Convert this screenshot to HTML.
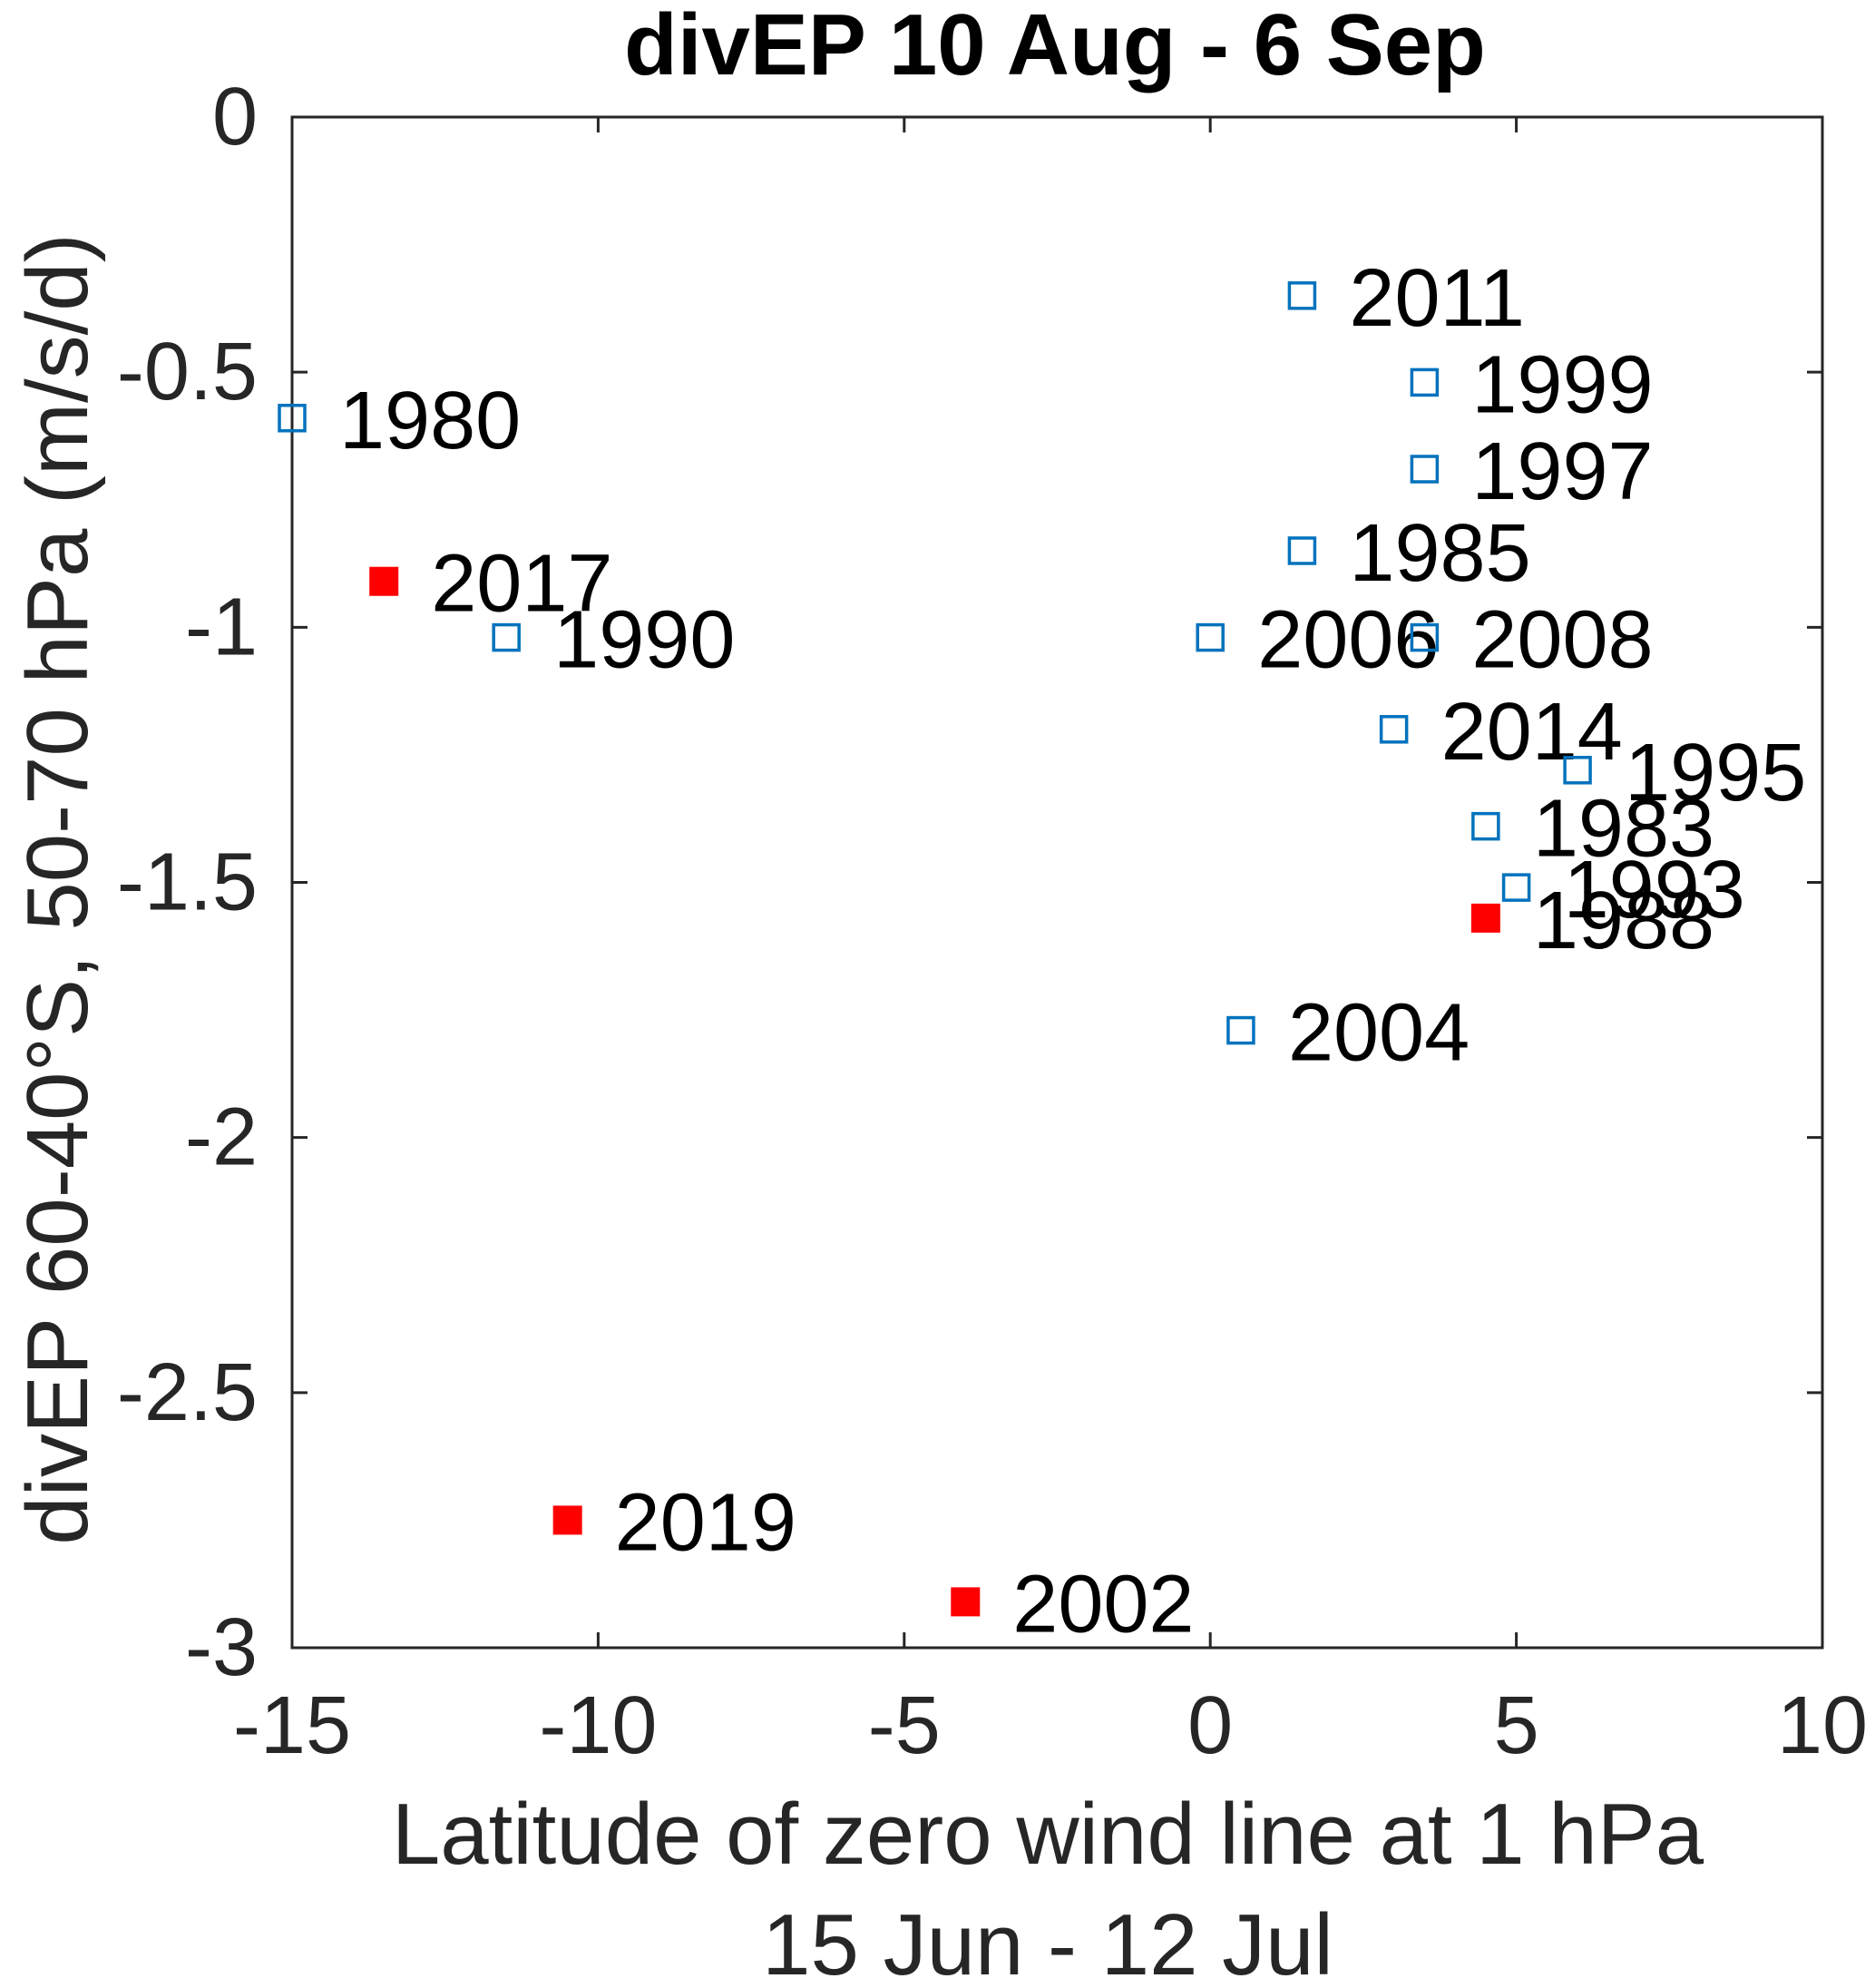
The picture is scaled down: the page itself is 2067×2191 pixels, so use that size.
<!DOCTYPE html>
<html><head><meta charset="utf-8"><style>
html,body{margin:0;padding:0;background:#fff;}
svg{display:block;font-family:"Liberation Sans",Arial,sans-serif;}
</style></head><body>
<svg id="chart" width="2067" height="2191" viewBox="0 0 2067 2191" xmlns="http://www.w3.org/2000/svg">
<text x="1163" y="82" font-size="96" font-weight="bold" text-anchor="middle" fill="#000">divEP 10 Aug - 6 Sep</text>
<g id="axes"></g>
<g id="points"></g>
<text x="1155" y="2054" font-size="96" text-anchor="middle" fill="#262626">Latitude of zero wind line at 1 hPa</text>
<text x="1155" y="2176" font-size="96" text-anchor="middle" fill="#262626">15 Jun - 12 Jul</text>
<text transform="translate(96,980) rotate(-90)" font-size="96" text-anchor="middle" fill="#262626">divEP 60-40°S, 50-70 hPa (m/s/d)</text>
</svg>
<script>
const years = ["1980","2017","1990","2019","2002","2011","1999","1997","1985","2006","2008","2014","1995","1983","1993","1988","2004"];
const xValues = [-15,-13.5,-11.5,-10.5,-4,1.5,3.5,3.5,1.5,0,3.5,3,6,4.5,5,4.5,0.5];
const yValues = [-0.59,-0.91,-1.02,-2.75,-2.91,-0.35,-0.52,-0.69,-0.85,-1.02,-1.02,-1.2,-1.28,-1.39,-1.51,-1.57,-1.79];
const highlighted = [false,true,false,true,true,false,false,false,false,false,false,false,false,false,false,true,false];
const xTicks = [-15,-10,-5,0,5,10];
const yTicks = [0,-0.5,-1,-1.5,-2,-2.5,-3];
const yTickLabels = ["0","-0.5","-1","-1.5","-2","-2.5","-3"];

const L=322,R=2009,T=129,B=1816;
const xMin=-15,xMax=10,yMin=-3,yMax=0;
const sx=v=>L+(v-xMin)/(xMax-xMin)*(R-L);
const sy=v=>T+(yMax-v)/(yMax-yMin)*(B-T);
const NS="http://www.w3.org/2000/svg";
function mk(tag,attrs,parent){const e=document.createElementNS(NS,tag);for(const k in attrs)e.setAttribute(k,attrs[k]);parent.appendChild(e);return e;}
const axes=document.getElementById('axes'), pts=document.getElementById('points');
const box=mk('rect',{x:L,y:T,width:R-L,height:B-T,fill:'none',stroke:'#262626','stroke-width':3},axes);


xTicks.forEach(v=>{
  const x=sx(v);
  const t1=mk('line',{x1:x,x2:x,y1:B,y2:B-17,stroke:'#262626','stroke-width':3},axes);
  
  
  const t2=mk('line',{x1:x,x2:x,y1:T,y2:T+17,stroke:'#262626','stroke-width':3},axes);
  
  
  const lb=mk('text',{x:x,y:1932,'font-size':90,'text-anchor':'middle',fill:'#262626'},axes);
  lb.textContent=String(v);
  
  
});
yTicks.forEach((v,i)=>{
  const y=sy(v);
  const t1=mk('line',{x1:L,x2:L+17,y1:y,y2:y,stroke:'#262626','stroke-width':3},axes);
  
  
  const t2=mk('line',{x1:R,x2:R-17,y1:y,y2:y,stroke:'#262626','stroke-width':3},axes);
  
  
  const lb=mk('text',{x:284,y:y+30,'font-size':90,'text-anchor':'end',fill:'#262626'},axes);
  lb.textContent=yTickLabels[i];
  
  
});
years.forEach((yr,i)=>{
  const x=sx(xValues[i]), y=sy(yValues[i]);
  let m;
  if(highlighted[i]){
    m=mk('rect',{x:x-16,y:y-16,width:32,height:32,fill:'#ff0000'},pts);
  } else {
    m=mk('rect',{x:x-14,y:y-14,width:28,height:28,fill:'none',stroke:'#0072BD','stroke-width':3.5},pts);
  }
  
  
  const lb=mk('text',{x:x+52,y:y+33,'font-size':90,fill:'#000'},pts);
  lb.textContent=yr;
  
  
});
</script>
</body></html>
